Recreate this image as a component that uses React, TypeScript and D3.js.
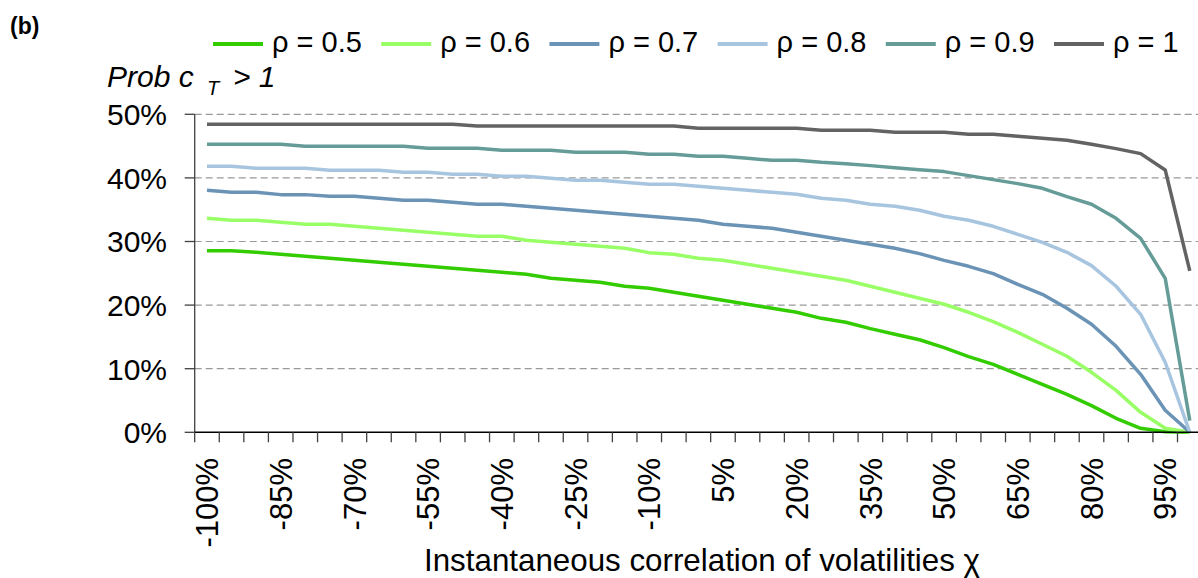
import React from "react";
import * as d3 from "d3";

// x categories: instantaneous correlation of volatilities (in %)
const categories: number[] = [
  -100, -95, -90, -85, -80, -75, -70, -65, -60, -55, -50, -45, -40, -35, -30, -25, -20, -15, -10, -5,
  0, 5, 10, 15, 20, 25, 30, 35, 40, 45, 50, 55, 60, 65, 70, 75, 80, 85, 90, 95, 100,
];

// categories that carry a tick label
const xLabelCats: number[] = [-100, -85, -70, -55, -40, -25, -10, 5, 20, 35, 50, 65, 80, 95];

const yTicks: number[] = [0, 0.1, 0.2, 0.3, 0.4, 0.5];

const seriesNames: string[] = ["ρ = 0.5", "ρ = 0.6", "ρ = 0.7", "ρ = 0.8", "ρ = 0.9", "ρ = 1"];
const seriesColors: string[] = ["#33cc00", "#99ff66", "#6a93b5", "#a8c5e0", "#659c98", "#636363"];

// values in %
const rho05: number[] = [
  28.56, 28.56, 28.3, 27.99, 27.67, 27.36, 27.04, 26.73, 26.42, 26.1, 25.79, 25.47, 25.16, 24.84, 24.21, 23.9, 23.58,
  22.96, 22.64, 22.01, 21.38, 20.75, 20.13, 19.5, 18.87, 17.92, 17.3, 16.3, 15.41, 14.55, 13.31, 11.9, 10.69, 9.12,
  7.55, 5.97, 4.19, 2.2, 0.63, 0.1, 0,
];
const rho06: number[] = [
  33.65, 33.33, 33.33, 33.02, 32.7, 32.7, 32.39, 32.08, 31.76, 31.45, 31.13, 30.82, 30.82, 30.19, 29.87, 29.56, 29.25,
  28.93, 28.25, 27.99, 27.36, 27.04, 26.42, 25.79, 25.16, 24.53, 23.9, 22.96, 22.01, 21.07, 20.13, 18.87, 17.4, 15.72,
  13.84, 11.95, 9.43, 6.6, 3.14, 0.63, 0,
];
const rho07: number[] = [
  38.05, 37.74, 37.74, 37.37, 37.37, 37.11, 37.11, 36.79, 36.48, 36.48, 36.16, 35.85, 35.85, 35.53, 35.22, 34.91,
  34.59, 34.28, 33.96, 33.65, 33.33, 32.7, 32.39, 32.08, 31.45, 30.82, 30.19, 29.56, 28.93, 28.09, 27.04, 26.1, 24.95,
  23.27, 21.7, 19.5, 16.98, 13.52, 9.12, 3.46, 0,
];
const rho08: number[] = [
  41.82, 41.82, 41.51, 41.51, 41.51, 41.19, 41.19, 41.19, 40.88, 40.88, 40.57, 40.57, 40.25, 40.25, 39.94, 39.62,
  39.62, 39.31, 38.99, 38.99, 38.68, 38.36, 38.05, 37.74, 37.42, 36.79, 36.48, 35.85, 35.53, 34.91, 33.96, 33.33,
  32.39, 31.13, 29.87, 28.3, 26.21, 22.96, 18.55, 11.01, 0,
];
const rho09: number[] = [
  45.28, 45.28, 45.28, 45.28, 44.97, 44.97, 44.97, 44.97, 44.97, 44.65, 44.65, 44.65, 44.34, 44.34, 44.34, 44.03,
  44.03, 44.03, 43.71, 43.71, 43.4, 43.4, 43.08, 42.77, 42.77, 42.45, 42.24, 41.93, 41.61, 41.3, 40.99, 40.36, 39.73,
  39.1, 38.36, 37.05, 35.85, 33.65, 30.5, 24.21, 1.83,
];
const rho10: number[] = [
  48.43, 48.43, 48.43, 48.43, 48.43, 48.43, 48.43, 48.43, 48.43, 48.43, 48.43, 48.17, 48.17, 48.17, 48.17, 48.17,
  48.17, 48.17, 48.17, 48.17, 47.8, 47.8, 47.8, 47.8, 47.8, 47.48, 47.48, 47.48, 47.17, 47.17, 47.17, 46.86, 46.86,
  46.54, 46.23, 45.91, 45.28, 44.6, 43.82, 41.25, 25.37,
];

const seriesValues: number[][] = [rho05, rho06, rho07, rho08, rho09, rho10];

const W = 1198;
const H = 578;
const FONT = "'Liberation Sans', Arial, Helvetica, sans-serif";

export default function App() {
  const plotLeft = 194.7;
  const band = 24.57;
  const x = d3
    .scaleBand<number>()
    .domain(categories)
    .range([plotLeft, plotLeft + band * categories.length])
    .paddingInner(0)
    .paddingOuter(0);
  const xc = (c: number) => (x(c) as number) + x.bandwidth() / 2;
  const y = d3.scaleLinear().domain([0, 0.5]).range([432.3, 114.3]);
  const plotRight = plotLeft + band * categories.length;

  const line = d3
    .line<number>()
    .x((_, i) => xc(categories[i]))
    .y((d) => y(d / 100));

  const tickXs = categories.map((c) => x(c) as number).concat([plotRight]);

  const legendX0 = 213;
  const legendStep = 168.2;

  return (
    <svg
      width={W}
      height={H}
      style={{ position: "absolute", left: 0, top: 0, background: "#fff" }}
      fontFamily={FONT}
    >
      <rect x={0} y={0} width={W} height={H} fill="#fff" />
      {/* panel tag */}
      <text x={10} y={34} fontSize={23} fontWeight="bold" fill="#000">
        (b)
      </text>

      {/* legend */}
      {seriesNames.map((name, j) => {
        const lx = legendX0 + legendStep * j;
        return (
          <g key={name}>
            <line x1={lx} x2={lx + 50} y1={44} y2={44} stroke={seriesColors[j]} strokeWidth={4} />
            <text x={lx + 59} y={52} fontSize={29} fill="#000">
              {name}
            </text>
          </g>
        );
      })}

      {/* y axis title */}
      <text x={107} y={87} fontSize={30} fontStyle="italic" fill="#000">
        Prob c
        <tspan x={207} dy={8} fontSize={20}>
          T
        </tspan>
        <tspan x={233} dy={-8}>
          &gt; 1
        </tspan>
      </text>

      {/* gridlines */}
      {yTicks
        .filter((t) => t > 0)
        .map((t) => (
          <line
            key={"g" + t}
            x1={plotLeft}
            x2={plotRight}
            y1={y(t)}
            y2={y(t)}
            stroke="#999"
            strokeWidth={1.2}
            strokeDasharray="7,4"
          />
        ))}

      {/* y axis */}
      <line x1={plotLeft} x2={plotLeft} y1={y(0.5)} y2={y(0)} stroke="#404040" strokeWidth={1.3} />
      {yTicks.map((t) => (
        <g key={"y" + t}>
          <line x1={plotLeft - 10} x2={plotLeft} y1={y(t)} y2={y(t)} stroke="#404040" strokeWidth={1.3} />
          <text x={167} y={y(t)} dy="0.36em" textAnchor="end" fontSize={30} fill="#000">
            {d3.format(".0%")(t)}
          </text>
        </g>
      ))}

      {/* series */}
      {seriesValues.map((vals, j) => (
        <path
          key={"s" + j}
          d={line(vals) || ""}
          fill="none"
          stroke={seriesColors[j]}
          strokeWidth={3.5}
          strokeLinejoin="round"
        />
      ))}

      {/* x axis */}
      <line x1={plotLeft} x2={plotRight} y1={y(0)} y2={y(0)} stroke="#000" strokeWidth={1.5} />
      {tickXs.map((tx, k) => (
        <line key={"t" + k} x1={tx} x2={tx} y1={y(0)} y2={y(0) + 10} stroke="#404040" strokeWidth={1.3} />
      ))}
      {xLabelCats.map((c) => (
        <text
          key={"xl" + c}
          transform={`translate(${xc(c)},458) rotate(-90)`}
          dy="0.36em"
          textAnchor="end"
          fontSize={31}
          fill="#000"
        >
          {c + "%"}
        </text>
      ))}

      {/* x axis title */}
      <text
        x={424}
        y={571}
        fontSize={32}
        textLength={556}
        lengthAdjust="spacingAndGlyphs"
        fill="#000"
      >
        Instantaneous correlation of volatilities χ
      </text>
    </svg>
  );
}
